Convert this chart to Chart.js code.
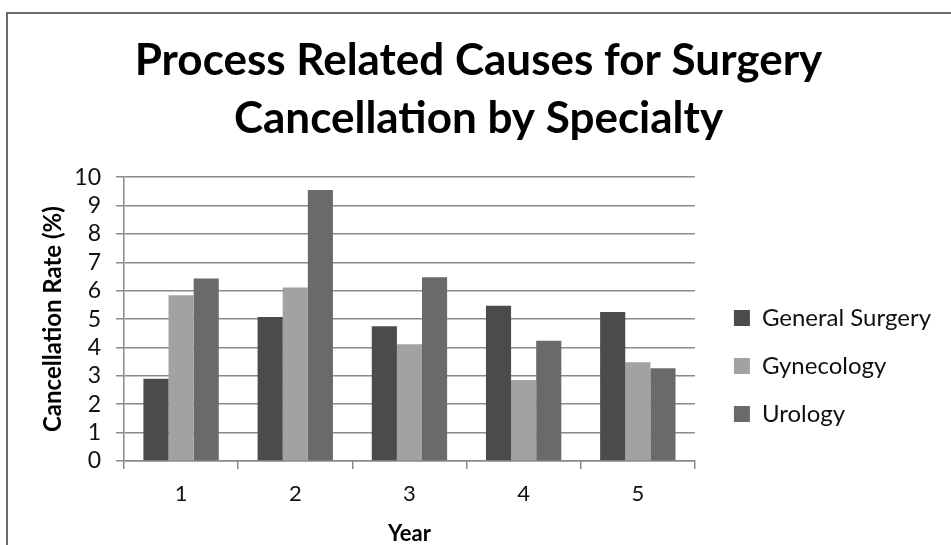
<!DOCTYPE html>
<html>
<head>
<meta charset="utf-8">
<script src="https://cdn.jsdelivr.net/npm/chart.js@4"></script>
<style>
  html, body { margin: 0; padding: 0; background: #fff; }
  #wrap { position: relative; width: 951px; height: 545px; overflow: hidden; }
  #frame { position: absolute; left: 6px; top: 12px; width: 1000px; height: 600px;
           border-top: 2px solid #6a6a6a; border-left: 2px solid #6a6a6a; }
  canvas { position: absolute; left: 0; top: 0; }
</style>
</head>
<body>
<div id="wrap">
  <div id="frame"></div>
  <canvas id="chart" width="951" height="545"></canvas>
</div>
<script>
const years = ['1', '2', '3', '4', '5'];
const generalSurgery = [2.9, 5.07, 4.75, 5.47, 5.25];
const gynecology = [5.84, 6.11, 4.11, 2.85, 3.48];
const urology = [6.43, 9.55, 6.47, 4.24, 3.27];
const yTicks = [0, 1, 2, 3, 4, 5, 6, 7, 8, 9, 10];

const FONT = 'Lato, "Open Sans", sans-serif';
const gridGray = '#8a8a8a';

new Chart(document.getElementById('chart'), {
  type: 'bar',
  data: {
    labels: years,
    datasets: [
      { label: 'General Surgery', data: generalSurgery, backgroundColor: '#4b4b4b' },
      { label: 'Gynecology', data: gynecology, backgroundColor: '#a2a2a2' },
      { label: 'Urology', data: urology, backgroundColor: '#6a6a6a' }
    ]
  },
  options: {
    responsive: false,
    animation: false,
    datasets: { bar: { categoryPercentage: 0.66, barPercentage: 1.0, borderWidth: 0 } },
    layout: { padding: { left: 16, right: 10, top: 0, bottom: 0 } },
    plugins: {
      title: {
        display: true,
        text: ['Process Related Causes for Surgery', 'Cancellation by Specialty'],
        color: '#000',
        font: { family: FONT, size: 44, weight: 'bold', lineHeight: 1.32 },
        padding: { top: 32, bottom: 29 }
      },
      legend: {
        position: 'right',
        align: 'center',
        // empty title only pushes the column of items down
        title: { display: true, text: ' ', font: { size: 10, lineHeight: 1 }, padding: { top: 177, bottom: 0 } },
        labels: {
          color: '#111',
          font: { family: FONT, size: 24 },
          boxWidth: 16,
          boxHeight: 16,
          padding: 24
        }
      },
      tooltip: { enabled: false }
    },
    scales: {
      x: {
        grid: { display: true, drawOnChartArea: false, drawTicks: true, tickLength: 8, color: gridGray, lineWidth: 1.5, offset: true },
        border: { color: gridGray, width: 1.5 },
        ticks: { color: '#111', font: { family: FONT, size: 22 }, padding: 12 },
        title: { display: true, text: 'Year', color: '#000', font: { family: FONT, size: 22, weight: 'bold', lineHeight: 1 }, padding: { top: 0, bottom: 0 } },
        afterFit: s => { s.height = 84; }
      },
      y: {
        min: 0,
        max: 10,
        afterBuildTicks: s => { s.ticks = yTicks.map(v => ({ value: v })); },
        grid: { color: gridGray, lineWidth: 1.5, tickLength: 8 },
        border: { color: gridGray, width: 1.5 },
        ticks: { color: '#111', font: { family: FONT, size: 23 }, padding: 15, autoSkip: false },
        title: { display: true, text: 'Cancellation Rate (%)', color: '#000', font: { family: FONT, size: 24, weight: 'bold', lineHeight: 1 }, padding: { top: 25, bottom: 0 } },
        afterFit: s => { s.width = 108; }
      },
      // blank spacer between the plot and the legend
      gap: {
        position: 'right',
        display: false,
        min: 0,
        max: 1,
        afterFit: s => { s.width = 15; }
      }
    }
  }
});
</script>
</body>
</html>
